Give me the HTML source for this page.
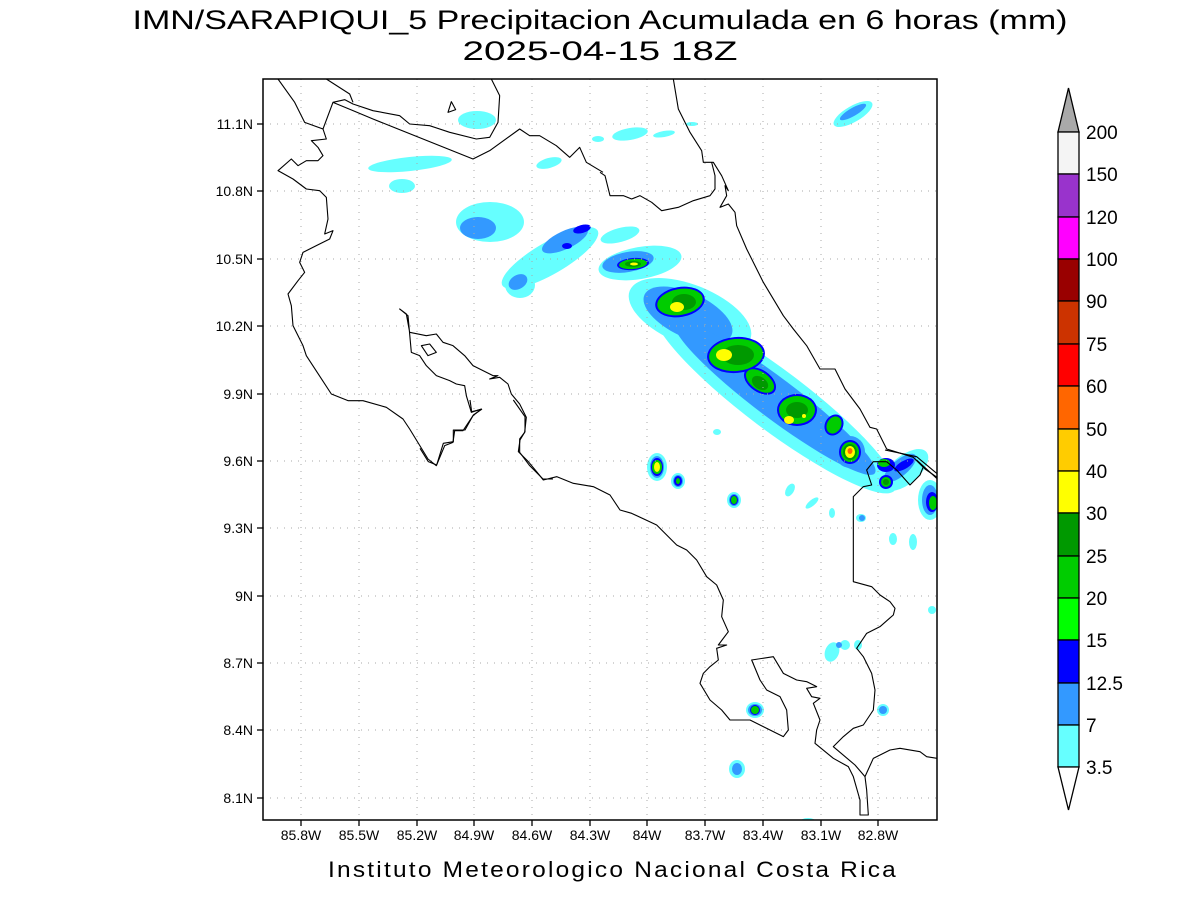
<!DOCTYPE html>
<html><head><meta charset="utf-8"><style>
html,body{margin:0;padding:0;background:#fff;}
svg{display:block;font-family:"Liberation Sans",sans-serif;}
</style></head><body>
<svg width="1200" height="900" viewBox="0 0 1200 900" xmlns="http://www.w3.org/2000/svg">
<rect width="1200" height="900" fill="#fff"/>
<text x="600" y="29" font-size="27" text-anchor="middle" textLength="935" lengthAdjust="spacingAndGlyphs">IMN/SARAPIQUI_5 Precipitacion Acumulada en 6 horas (mm)</text>
<text x="600" y="60" font-size="27" text-anchor="middle" textLength="275" lengthAdjust="spacingAndGlyphs">2025-04-15 18Z</text>
<defs><clipPath id="cp"><rect x="263" y="79" width="674" height="741"/></clipPath></defs>
<g clip-path="url(#cp)">
<g fill="#66ffff">
<ellipse cx="477" cy="120" rx="19" ry="9"/>
<ellipse cx="410" cy="164" rx="42" ry="7" transform="rotate(-6 410 164)"/>
<ellipse cx="402" cy="186" rx="13" ry="7"/>
<ellipse cx="549" cy="163" rx="13" ry="5" transform="rotate(-15 549 163)"/>
<ellipse cx="598" cy="139" rx="6" ry="3"/>
<ellipse cx="630" cy="134" rx="18" ry="6" transform="rotate(-10 630 134)"/>
<ellipse cx="664" cy="134" rx="11" ry="3" transform="rotate(-10 664 134)"/>
<ellipse cx="692" cy="124" rx="6" ry="2"/>
<ellipse cx="853" cy="114" rx="22" ry="8" transform="rotate(-30 853 114)"/>
<ellipse cx="490" cy="222" rx="34" ry="20"/>
<ellipse cx="550" cy="258" rx="55" ry="16" transform="rotate(-30 550 258)"/>
<ellipse cx="520" cy="285" rx="15" ry="13"/>
<ellipse cx="620" cy="235" rx="20" ry="7" transform="rotate(-15 620 235)"/>
<ellipse cx="640" cy="263" rx="42" ry="16" transform="rotate(-10 640 263)"/>
<ellipse cx="690" cy="315" rx="65" ry="30" transform="rotate(22 690 315)"/>
<ellipse cx="775" cy="400" rx="150" ry="30" transform="rotate(37 775 400)"/>
<ellipse cx="850" cy="452" rx="20" ry="20"/>
<ellipse cx="905" cy="470" rx="28" ry="14" transform="rotate(-40 905 470)"/>
<ellipse cx="930" cy="500" rx="12" ry="20"/>
<ellipse cx="657" cy="467" rx="10" ry="14"/>
<ellipse cx="678" cy="481" rx="7" ry="8"/>
<ellipse cx="734" cy="500" rx="7" ry="8"/>
<ellipse cx="717" cy="432" rx="4" ry="3"/>
<ellipse cx="790" cy="490" rx="4" ry="7" transform="rotate(30 790 490)"/>
<ellipse cx="812" cy="503" rx="8" ry="3" transform="rotate(-40 812 503)"/>
<ellipse cx="832" cy="513" rx="3" ry="5"/>
<ellipse cx="861" cy="518" rx="5" ry="4"/>
<ellipse cx="893" cy="539" rx="4" ry="6"/>
<ellipse cx="913" cy="542" rx="4" ry="8"/>
<ellipse cx="932" cy="610" rx="4" ry="4"/>
<ellipse cx="832" cy="652" rx="7" ry="10" transform="rotate(20 832 652)"/>
<ellipse cx="845" cy="645" rx="5" ry="5"/>
<ellipse cx="858" cy="645" rx="4" ry="5"/>
<ellipse cx="755" cy="710" rx="9" ry="8"/>
<ellipse cx="737" cy="769" rx="8" ry="9"/>
<ellipse cx="883" cy="710" rx="6" ry="6"/>
<ellipse cx="808" cy="822" rx="8" ry="4"/>
</g>
<g fill="#3399ff">
<ellipse cx="478" cy="228" rx="18" ry="11"/>
<ellipse cx="565" cy="240" rx="25" ry="9" transform="rotate(-25 565 240)"/>
<ellipse cx="518" cy="282" rx="10" ry="7" transform="rotate(-30 518 282)"/>
<ellipse cx="853" cy="112" rx="15" ry="4" transform="rotate(-30 853 112)"/>
<ellipse cx="628" cy="262" rx="26" ry="10" transform="rotate(-10 628 262)"/>
<ellipse cx="688" cy="315" rx="48" ry="22" transform="rotate(25 688 315)"/>
<ellipse cx="775" cy="398" rx="125" ry="20" transform="rotate(37 775 398)"/>
<ellipse cx="850" cy="452" rx="15" ry="16"/>
<ellipse cx="900" cy="468" rx="20" ry="8" transform="rotate(-40 900 468)"/>
<ellipse cx="930" cy="500" rx="8" ry="15"/>
<ellipse cx="657" cy="467" rx="7" ry="11"/>
<ellipse cx="678" cy="481" rx="5" ry="6"/>
<ellipse cx="734" cy="500" rx="5" ry="6"/>
<ellipse cx="755" cy="710" rx="7" ry="6"/>
<ellipse cx="737" cy="769" rx="5" ry="6"/>
<ellipse cx="883" cy="710" rx="4" ry="4"/>
<ellipse cx="862" cy="518" rx="3" ry="3"/>
<ellipse cx="839" cy="645" rx="3" ry="3"/>
</g>
<g fill="#0000ff">
<ellipse cx="582" cy="229" rx="9" ry="4" transform="rotate(-15 582 229)"/>
<ellipse cx="567" cy="246" rx="5" ry="3"/>
<ellipse cx="633" cy="264" rx="16" ry="6" transform="rotate(-5 633 264)"/>
<ellipse cx="680" cy="302" rx="25" ry="15" transform="rotate(-10 680 302)"/>
<ellipse cx="736" cy="355" rx="29" ry="18" transform="rotate(-5 736 355)"/>
<ellipse cx="760" cy="381" rx="18" ry="11" transform="rotate(35 760 381)"/>
<ellipse cx="797" cy="410" rx="20" ry="16"/>
<ellipse cx="834" cy="425" rx="9" ry="11" transform="rotate(30 834 425)"/>
<ellipse cx="850" cy="452" rx="11" ry="12"/>
<ellipse cx="886" cy="465" rx="9" ry="7"/>
<ellipse cx="904" cy="465" rx="11" ry="4" transform="rotate(-30 904 465)"/>
<ellipse cx="886" cy="482" rx="7" ry="7"/>
<ellipse cx="932" cy="502" rx="6" ry="10"/>
<ellipse cx="657" cy="467" rx="6" ry="9"/>
<ellipse cx="678" cy="481" rx="4" ry="5"/>
<ellipse cx="734" cy="500" rx="4" ry="5"/>
<ellipse cx="755" cy="710" rx="5" ry="5"/>
</g>
<g fill="#00cc00">
<ellipse cx="633" cy="264" rx="14" ry="5" transform="rotate(-5 633 264)"/>
<ellipse cx="680" cy="302" rx="23" ry="13" transform="rotate(-10 680 302)"/>
<ellipse cx="736" cy="355" rx="27" ry="16" transform="rotate(-5 736 355)"/>
<ellipse cx="760" cy="381" rx="16" ry="9" transform="rotate(35 760 381)"/>
<ellipse cx="797" cy="410" rx="18" ry="14"/>
<ellipse cx="834" cy="425" rx="7" ry="9" transform="rotate(30 834 425)"/>
<ellipse cx="850" cy="452" rx="9" ry="10"/>
<ellipse cx="884" cy="463" rx="6" ry="4"/>
<ellipse cx="886" cy="482" rx="5" ry="5"/>
<ellipse cx="933" cy="503" rx="4" ry="7"/>
<ellipse cx="657" cy="467" rx="5" ry="7"/>
<ellipse cx="678" cy="481" rx="2" ry="3"/>
<ellipse cx="734" cy="500" rx="3" ry="4"/>
<ellipse cx="755" cy="710" rx="4" ry="4"/>
</g>
<g fill="#009900">
<ellipse cx="633" cy="264" rx="8" ry="3"/>
<ellipse cx="684" cy="302" rx="12" ry="8"/>
<ellipse cx="738" cy="355" rx="16" ry="10"/>
<ellipse cx="760" cy="383" rx="9" ry="6" transform="rotate(35 760 383)"/>
<ellipse cx="797" cy="410" rx="11" ry="8"/>
<ellipse cx="850" cy="452" rx="7" ry="8"/>
<ellipse cx="886" cy="482" rx="3" ry="3"/>
</g>
<g fill="#ffff00">
<ellipse cx="634" cy="264" rx="4" ry="1.5"/>
<ellipse cx="677" cy="307" rx="7" ry="5"/>
<ellipse cx="724" cy="355" rx="8" ry="6"/>
<ellipse cx="789" cy="420" rx="5" ry="4"/>
<ellipse cx="804" cy="416" rx="2" ry="2"/>
<ellipse cx="850" cy="452" rx="5" ry="6"/>
<ellipse cx="657" cy="467" rx="3" ry="5"/>
</g>
<ellipse cx="850" cy="451" rx="2.5" ry="3" fill="#ff6600"/>
<g stroke="#aaa" stroke-width="1" stroke-dasharray="1,6">
<line x1="301" y1="79" x2="301" y2="820"/><line x1="359" y1="79" x2="359" y2="820"/>
<line x1="417" y1="79" x2="417" y2="820"/><line x1="474" y1="79" x2="474" y2="820"/>
<line x1="532" y1="79" x2="532" y2="820"/><line x1="590" y1="79" x2="590" y2="820"/>
<line x1="647" y1="79" x2="647" y2="820"/><line x1="705" y1="79" x2="705" y2="820"/>
<line x1="763" y1="79" x2="763" y2="820"/><line x1="821" y1="79" x2="821" y2="820"/>
<line x1="878" y1="79" x2="878" y2="820"/>
<line x1="263" y1="124" x2="937" y2="124"/><line x1="263" y1="191" x2="937" y2="191"/>
<line x1="263" y1="259" x2="937" y2="259"/><line x1="263" y1="326" x2="937" y2="326"/>
<line x1="263" y1="394" x2="937" y2="394"/><line x1="263" y1="461" x2="937" y2="461"/>
<line x1="263" y1="528" x2="937" y2="528"/><line x1="263" y1="596" x2="937" y2="596"/>
<line x1="263" y1="663" x2="937" y2="663"/><line x1="263" y1="730" x2="937" y2="730"/>
<line x1="263" y1="798" x2="937" y2="798"/>
</g>
<g transform="translate(263,79) scale(0.33333)" fill="none" stroke="#000" stroke-width="3.3" stroke-linejoin="round">
<polyline points="45,0 95,70 125,130 180,150 210,70 245,62 270,75 330,95 410,110 440,135 500,140 560,160 640,180 680,175 705,130 710,50 685,0"/>
<polyline points="190,0 260,45 270,70"/>
<polyline points="210,70 270,95 330,120 630,240 680,215 770,150 800,170 830,170 880,200 920,235 950,205 970,250 1020,280"/>
<polyline points="180,150 190,180 145,185 165,205 180,230 165,245 130,245 105,260 85,240 45,275 90,300 130,330 170,335 190,355 195,420 185,465 210,455 200,480 160,500 120,520 110,550 125,580 105,605 75,645 85,680 90,740 120,800 130,830 205,945 255,965 300,965 370,985 420,1020 440,1050 495,1140 520,1160 545,1100 570,1090 575,1055 600,1055 630,1010 655,990 625,1000 610,950 605,920 580,915 560,905 520,890 490,860 470,830 445,820 435,710 410,690 430,705 440,760 490,770 520,765 540,790 570,800 605,830 630,860 690,890 705,890 680,900 710,895 735,915 745,945 770,975 790,1015 785,1060 770,1080 770,1120 800,1160 840,1200 870,1200"/>
<polygon points="475,800 500,795 520,820 495,830"/>
<polygon points="555,100 565,68 578,92"/>
</g>
<g transform="translate(600,79) scale(0.33333)" fill="none" stroke="#000" stroke-width="3.3" stroke-linejoin="round">
<polyline points="220,0 235,90 270,160 305,215 310,250 340,250 365,290 385,335 375,320 380,350 360,385 385,375 405,400 410,440 440,510 470,570 490,610 550,710 580,750 620,800 660,870 705,870 735,930 780,990 810,1045 830,1050 860,1110 940,1135 975,1170 1011,1195"/>
<polyline points="0,280 15,290 30,350 70,350 95,360 120,350 155,370 185,395 235,385 280,365 330,350 345,330 345,290 335,250"/>
</g>
<g transform="translate(420,400) scale(0.33333)" fill="none" stroke="#000" stroke-width="3.3" stroke-linejoin="round">
<polyline points="150,0 155,35 185,28 160,45 135,90 100,90 100,125 70,130 50,195 25,185 0,145"/>
<polyline points="280,0 315,50 315,95 300,120 295,155 325,185 350,215 370,240 410,230 460,250 520,260 570,285 600,330 635,340 710,375 740,405 770,435 800,450 830,480 860,530 890,555 910,600 905,650 925,695 895,735 920,735 890,745 895,780 870,800 850,820 840,850 870,900 905,930 930,960 990,960 1090,1010 1105,990 1100,930 1080,890 1040,870 1020,840 995,780 1060,770 1090,820 1130,840 1160,845 1190,860 1160,865 1175,890 1200,895 1180,910 1200,960 1190,990 1185,1030 1240,1075 1285,1100 1300,1130 1320,1200 1320,1245 1345,1245 1340,1170 1335,1130 1305,1095 1240,1040 1270,1010 1300,985 1330,975 1360,930 1365,870 1355,820 1330,770 1310,745 1340,700 1380,680 1420,645 1425,625 1410,605 1380,585 1355,560 1300,545 1300,290 1330,260 1355,255 1340,210 1360,185 1400,185 1430,210 1470,255 1500,225 1510,200 1490,180 1550,235"/>
<polyline points="1395,150 1490,170 1550,220"/>
<polyline points="1335,1130 1360,1075 1410,1050 1440,1045 1500,1055 1520,1070 1551,1075"/>
</g>
</g>
<rect x="263" y="79" width="674" height="741" fill="none" stroke="#000" stroke-width="1.5"/>
<g stroke="#000" stroke-width="1.3">
<line x1="301" y1="820" x2="301" y2="826"/><line x1="359" y1="820" x2="359" y2="826"/>
<line x1="417" y1="820" x2="417" y2="826"/><line x1="474" y1="820" x2="474" y2="826"/>
<line x1="532" y1="820" x2="532" y2="826"/><line x1="590" y1="820" x2="590" y2="826"/>
<line x1="647" y1="820" x2="647" y2="826"/><line x1="705" y1="820" x2="705" y2="826"/>
<line x1="763" y1="820" x2="763" y2="826"/><line x1="821" y1="820" x2="821" y2="826"/>
<line x1="878" y1="820" x2="878" y2="826"/>
<line x1="257" y1="124" x2="263" y2="124"/><line x1="257" y1="191" x2="263" y2="191"/>
<line x1="257" y1="259" x2="263" y2="259"/><line x1="257" y1="326" x2="263" y2="326"/>
<line x1="257" y1="394" x2="263" y2="394"/><line x1="257" y1="461" x2="263" y2="461"/>
<line x1="257" y1="528" x2="263" y2="528"/><line x1="257" y1="596" x2="263" y2="596"/>
<line x1="257" y1="663" x2="263" y2="663"/><line x1="257" y1="730" x2="263" y2="730"/>
<line x1="257" y1="798" x2="263" y2="798"/>
</g>
<g font-size="14" text-anchor="middle">
<text x="301" y="840">85.8W</text><text x="359" y="840">85.5W</text><text x="417" y="840">85.2W</text>
<text x="474" y="840">84.9W</text><text x="532" y="840">84.6W</text><text x="590" y="840">84.3W</text>
<text x="647" y="840">84W</text><text x="705" y="840">83.7W</text><text x="763" y="840">83.4W</text>
<text x="821" y="840">83.1W</text><text x="878" y="840">82.8W</text>
</g>
<g font-size="14" text-anchor="end">
<text x="253" y="129">11.1N</text><text x="253" y="196">10.8N</text><text x="253" y="264">10.5N</text>
<text x="253" y="331">10.2N</text><text x="253" y="399">9.9N</text><text x="253" y="466">9.6N</text>
<text x="253" y="533">9.3N</text><text x="253" y="601">9N</text><text x="253" y="668">8.7N</text>
<text x="253" y="735">8.4N</text><text x="253" y="803">8.1N</text>
</g>
<text x="613" y="877" font-size="22" text-anchor="middle" letter-spacing="2" textLength="570" lengthAdjust="spacingAndGlyphs">Instituto Meteorologico Nacional Costa Rica</text>
<g stroke="#000" stroke-width="1.3">
<polygon points="1068.5,88 1058,132 1079,132" fill="#a9a9a9"/>
<rect x="1058" y="132" width="21" height="42" fill="#f4f4f4"/>
<rect x="1058" y="174" width="21" height="43" fill="#9933cc"/>
<rect x="1058" y="217" width="21" height="42" fill="#ff00ff"/>
<rect x="1058" y="259" width="21" height="42" fill="#990000"/>
<rect x="1058" y="301" width="21" height="43" fill="#cc3300"/>
<rect x="1058" y="344" width="21" height="42" fill="#ff0000"/>
<rect x="1058" y="386" width="21" height="43" fill="#ff6600"/>
<rect x="1058" y="429" width="21" height="42" fill="#ffcc00"/>
<rect x="1058" y="471" width="21" height="42" fill="#ffff00"/>
<rect x="1058" y="513" width="21" height="43" fill="#009900"/>
<rect x="1058" y="556" width="21" height="42" fill="#00cc00"/>
<rect x="1058" y="598" width="21" height="42" fill="#00ff00"/>
<rect x="1058" y="640" width="21" height="43" fill="#0000ff"/>
<rect x="1058" y="683" width="21" height="42" fill="#3399ff"/>
<rect x="1058" y="725" width="21" height="42" fill="#66ffff"/>
<polygon points="1058,767 1079,767 1068.5,810" fill="#fff"/>
</g>
<g font-size="19">
<text x="1086" y="139">200</text><text x="1086" y="181">150</text><text x="1086" y="224">120</text>
<text x="1086" y="266">100</text><text x="1086" y="308">90</text><text x="1086" y="351">75</text>
<text x="1086" y="393">60</text><text x="1086" y="436">50</text><text x="1086" y="478">40</text>
<text x="1086" y="520">30</text><text x="1086" y="563">25</text><text x="1086" y="605">20</text>
<text x="1086" y="647">15</text><text x="1086" y="690">12.5</text><text x="1086" y="732">7</text>
<text x="1086" y="774">3.5</text>
</g>
</svg>
</body></html>
